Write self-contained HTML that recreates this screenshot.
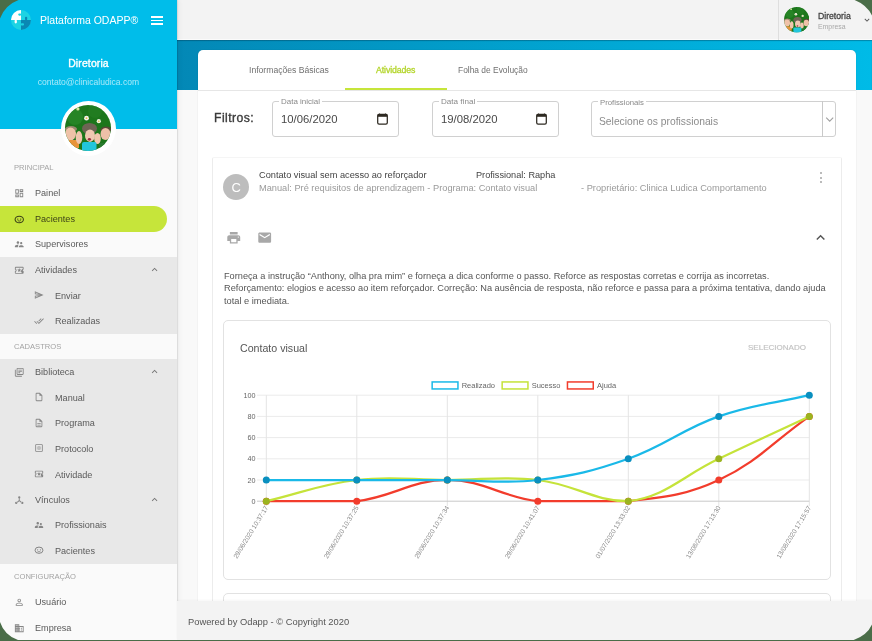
<!DOCTYPE html>
<html><head><meta charset="utf-8">
<style>
*{box-sizing:border-box;margin:0;padding:0}
html,body{width:872px;height:641px;overflow:hidden;background:#4a6d48;font-family:"Liberation Sans",sans-serif}
#app{position:absolute;left:0;top:0;width:872px;height:640px;overflow:hidden;background:#f9f9f9}
.abs{position:absolute}
svg.abs{display:block}
#side{position:absolute;left:0;top:0;width:177px;height:640px;background:#fafafa;box-shadow:1px 0 1px rgba(0,0,0,.08),2px 0 5px rgba(0,0,0,.05)}
#sidehead{position:absolute;left:0;top:0;width:177px;height:129px;background:#00bdea}
.t{position:absolute;white-space:nowrap;line-height:1;will-change:transform}
.grp{position:absolute;left:0;width:177px;background:#e8e8e8}
#topbar{position:absolute;left:177px;top:0;width:695px;height:40px;background:#f3f3f3;border-bottom:1px solid #fbfbfb}
#band{position:absolute;left:177px;top:40px;width:695px;height:50.2px;background:linear-gradient(90deg,#0388b6,#00bbe7);box-shadow:inset 0 1px 1px rgba(0,40,60,.35)}
#card{position:absolute;left:198px;top:50px;width:658px;height:600px;background:#fff;border-radius:5px;box-shadow:0 0 1px rgba(0,0,0,.25)}
#footer{position:absolute;left:177px;top:601px;width:695px;height:39px;background:#f3f3f3;box-shadow:0 -1px 2px rgba(0,0,0,.04)}
</style></head>
<body><div id="app">

<div id="topbar">
  <div class="abs" style="left:601.3px;top:0;width:1px;height:40px;background:#dedede"></div>
  <svg class="abs" style="left:606.8px;top:7.3px" width="25.4" height="25.4" viewBox="0 0 46 46">
    <use href="#avimg"/>
  </svg>
  <div class="t" style="left:640.7px;top:12.2px;font-size:8.66px;color:#444;-webkit-text-stroke:0.3px #444">Diretoria</div>
  <div class="t" style="left:640.7px;top:24.3px;font-size:6.92px;color:#a8a8a8">Empresa</div>
  <svg class="abs" style="left:685px;top:14.5px" width="10" height="10" viewBox="0 0 24 24"><path fill="#555" d="M16.59 8.59L12 13.17 7.41 8.59 6 10l6 6 6-6z"/></svg>
</div>
<div id="band"></div>
<div id="card">
</div>
<div class="abs" style="left:198px;top:89.5px;width:658px;height:1px;background:#e6e6e6"></div>
<div class="abs" style="left:345px;top:87.5px;width:102px;height:2px;background:#c6e53a"></div>
<div class="t" style="left:249.2px;top:66.00px;font-size:8.62px;color:#707070;">Informações Básicas</div>
<div class="t" style="left:375.7px;top:65.90px;font-size:8.75px;color:#b4d52c;-webkit-text-stroke:0.3px #b4d52c;letter-spacing:-0.1px">Atividades</div>
<div class="t" style="left:457.5px;top:66.17px;font-size:8.41px;color:#707070;">Folha de Evolução</div>
<div class="t" style="left:213.7px;top:111.64px;font-size:12.2px;color:#3a3a3a;-webkit-text-stroke:0.35px #3a3a3a;letter-spacing:0.45px">Filtros:</div>
<div class="abs" style="left:271.5px;top:100.9px;width:127.5px;height:36.1px;border:1px solid #d0d0d0;border-radius:3px"></div>
<div class="t" style="left:278.7px;top:98.42px;font-size:7.97px;color:#8a8a8a;background:#fff;padding:0 2px">Data inicial</div>
<div class="t" style="left:281.4px;top:114.36px;font-size:11.3px;color:#484848;">10/06/2020</div>
<div class="abs" style="left:431.5px;top:100.9px;width:127px;height:36.1px;border:1px solid #d0d0d0;border-radius:3px"></div>
<div class="t" style="left:438.6px;top:98.32px;font-size:8.1px;color:#8a8a8a;background:#fff;padding:0 2px">Data final</div>
<div class="t" style="left:441px;top:114.36px;font-size:11.3px;color:#484848;">19/08/2020</div>
<svg class="abs" style="left:376.6px;top:112.6px" width="11" height="12" viewBox="0 0 11 12"><rect x="0.7" y="1.4" width="9.6" height="9.8" rx="1.4" fill="none" stroke="#2e2a22" stroke-width="1.25"/><rect x="0.7" y="1.4" width="9.6" height="2.4" fill="#2e2a22"/><rect x="1.6" y="0.6" width="1.6" height="1.6" rx=".6" fill="#2e2a22"/><rect x="7.8" y="0.6" width="1.6" height="1.6" rx=".6" fill="#2e2a22"/></svg>
<svg class="abs" style="left:535.8px;top:112.6px" width="11" height="12" viewBox="0 0 11 12"><rect x="0.7" y="1.4" width="9.6" height="9.8" rx="1.4" fill="none" stroke="#2e2a22" stroke-width="1.25"/><rect x="0.7" y="1.4" width="9.6" height="2.4" fill="#2e2a22"/><rect x="1.6" y="0.6" width="1.6" height="1.6" rx=".6" fill="#2e2a22"/><rect x="7.8" y="0.6" width="1.6" height="1.6" rx=".6" fill="#2e2a22"/></svg>
<div class="abs" style="left:591.4px;top:100.9px;width:244.3px;height:36.1px;border:1px solid #d0d0d0;border-radius:3px"></div>
<div class="t" style="left:598px;top:98.59px;font-size:7.76px;color:#8a8a8a;background:#fff;padding:0 2px">Profissionais</div>
<div class="abs" style="left:822px;top:101px;width:1px;height:35.5px;background:#c9c9c9"></div>
<svg class="abs" style="left:824px;top:113px" width="12" height="12" viewBox="0 0 12 12"><polyline points="2.2,4.6 5.7,8.1 9.2,4.6" fill="none" stroke="#a0a0a0" stroke-width="1.1"/></svg>
<div class="t" style="left:598.8px;top:116.75px;font-size:10.31px;color:#8c8c8c;">Selecione os profissionais</div>
<div class="abs" style="left:212.3px;top:156.6px;width:629.4px;height:500px;border-radius:2px;border:1px solid #ececec;border-top-color:#f5f5f5"></div>
<div class="abs" style="left:223.2px;top:173.9px;width:26.2px;height:26.2px;border-radius:50%;background:#bdbdbd"></div>
<div class="t" style="left:223.2px;width:26.2px;text-align:center;top:181.3px;font-size:13px;color:#fff">C</div>
<div class="t" style="left:259.3px;top:170.82px;font-size:9.22px;color:#444;">Contato visual sem acesso ao reforçador</div>
<div class="t" style="left:475.6px;top:170.86px;font-size:9.17px;color:#444;">Profissional: Rapha</div>
<div class="t" style="left:259.3px;top:183.71px;font-size:9.24px;color:#9a9a9a;">Manual: Pré requisitos de aprendizagem - Programa: Contato visual</div>
<div class="t" style="left:581px;top:183.67px;font-size:9.29px;color:#9a9a9a;">- Proprietário: Clinica Ludica Comportamento</div>
<div class="abs" style="left:819.5px;top:172.1px;width:2.2px;height:2.2px;border-radius:50%;background:#a5a5a5"></div>
<div class="abs" style="left:819.5px;top:176.70000000000002px;width:2.2px;height:2.2px;border-radius:50%;background:#a5a5a5"></div>
<div class="abs" style="left:819.5px;top:181.3px;width:2.2px;height:2.2px;border-radius:50%;background:#a5a5a5"></div>
<svg class="abs" style="left:226.1px;top:230.1px" width="15.5" height="15.5" viewBox="0 0 24 24"><path fill="#a8a8a8" d="M19 8H5c-1.66 0-3 1.34-3 3v6h4v4h12v-4h4v-6c0-1.66-1.34-3-3-3zm-3 11H8v-5h8v5zm3-7c-.55 0-1-.45-1-1s.45-1 1-1 1 .45 1 1-.45 1-1 1zm-1-9H6v4h12V3z"/></svg>
<svg class="abs" style="left:257px;top:229.9px" width="15.4" height="15.4" viewBox="0 0 24 24"><path fill="#a8a8a8" d="M20 4H4c-1.1 0-1.99.9-1.99 2L2 18c0 1.1.9 2 2 2h16c1.1 0 2-.9 2-2V6c0-1.1-.9-2-2-2zm0 4l-8 5-8-5V6l8 5 8-5v2z"/></svg>
<svg class="abs" style="left:812px;top:228.6px" width="17.2" height="17.2" viewBox="0 0 24 24"><path fill="#555" d="M12 8l-6 6 1.41 1.41L12 10.83l4.59 4.58L18 14z"/></svg>
<div class="t" style="left:224.2px;top:271.94px;font-size:9.2px;color:#555;">Forneça a instrução “Anthony, olha pra mim” e forneça a dica conforme o passo. Reforce as respostas corretas e corrija as incorretas.</div>
<div class="t" style="left:224.2px;top:284.33px;font-size:9.21px;color:#555;">Reforçamento: elogios e acesso ao item reforçador. Correção: Na ausência de resposta, não reforce e passa para a próxima tentativa, dando ajuda</div>
<div class="t" style="left:224.2px;top:296.68px;font-size:9.28px;color:#555;">total e imediata.</div>
<div class="abs" style="left:223.2px;top:320.3px;width:607.5px;height:260px;border:1px solid #e2e2e2;border-radius:5px"></div>
<div class="abs" style="left:223.2px;top:593.2px;width:607.5px;height:60px;border:1px solid #e2e2e2;border-radius:5px"></div>
<div class="t" style="left:239.8px;top:343.20px;font-size:10.63px;color:#555;">Contato visual</div>
<div class="t" style="left:748.2px;top:344.37px;font-size:8.04px;color:#c2c2c2;-webkit-text-stroke:0.15px #c2c2c2">SELECIONADO</div>
<svg class="abs" style="left:0;top:0" width="872" height="641" viewBox="0 0 872 641">
<line x1="257" y1="480.0" x2="809.3" y2="480.0" stroke="#ebebeb" stroke-width="1"/>
<line x1="257" y1="458.8" x2="809.3" y2="458.8" stroke="#ebebeb" stroke-width="1"/>
<line x1="257" y1="437.6" x2="809.3" y2="437.6" stroke="#ebebeb" stroke-width="1"/>
<line x1="257" y1="416.4" x2="809.3" y2="416.4" stroke="#ebebeb" stroke-width="1"/>
<line x1="257" y1="395.2" x2="809.3" y2="395.2" stroke="#ebebeb" stroke-width="1"/>
<line x1="266.3" y1="395.2" x2="266.3" y2="506" stroke="#e4e4e4" stroke-width="1"/>
<line x1="356.8" y1="395.2" x2="356.8" y2="506" stroke="#e4e4e4" stroke-width="1"/>
<line x1="447.3" y1="395.2" x2="447.3" y2="506" stroke="#e4e4e4" stroke-width="1"/>
<line x1="537.8" y1="395.2" x2="537.8" y2="506" stroke="#e4e4e4" stroke-width="1"/>
<line x1="628.3" y1="395.2" x2="628.3" y2="506" stroke="#e4e4e4" stroke-width="1"/>
<line x1="718.8" y1="395.2" x2="718.8" y2="506" stroke="#e4e4e4" stroke-width="1"/>
<line x1="809.3" y1="395.2" x2="809.3" y2="506" stroke="#e4e4e4" stroke-width="1"/>
<line x1="257" y1="501.2" x2="809.3" y2="501.2" stroke="#c8c8c8" stroke-width="1"/>
<text x="255.6" y="503.7" text-anchor="end" font-size="7.2" fill="#666" font-family="Liberation Sans">0</text>
<text x="255.6" y="482.5" text-anchor="end" font-size="7.2" fill="#666" font-family="Liberation Sans">20</text>
<text x="255.6" y="461.3" text-anchor="end" font-size="7.2" fill="#666" font-family="Liberation Sans">40</text>
<text x="255.6" y="440.1" text-anchor="end" font-size="7.2" fill="#666" font-family="Liberation Sans">60</text>
<text x="255.6" y="418.9" text-anchor="end" font-size="7.2" fill="#666" font-family="Liberation Sans">80</text>
<text x="255.6" y="397.7" text-anchor="end" font-size="7.2" fill="#666" font-family="Liberation Sans">100</text>
<text transform="translate(268.5,507.5) rotate(-58.5)" text-anchor="end" font-size="6.6" fill="#888" font-family="Liberation Sans">29/06/2020 10:37:17</text>
<text transform="translate(359.0,507.5) rotate(-58.5)" text-anchor="end" font-size="6.6" fill="#888" font-family="Liberation Sans">29/06/2020 10:37:25</text>
<text transform="translate(449.5,507.5) rotate(-58.5)" text-anchor="end" font-size="6.6" fill="#888" font-family="Liberation Sans">29/06/2020 10:37:34</text>
<text transform="translate(540.0,507.5) rotate(-58.5)" text-anchor="end" font-size="6.6" fill="#888" font-family="Liberation Sans">29/06/2020 10:41:07</text>
<text transform="translate(630.5,507.5) rotate(-58.5)" text-anchor="end" font-size="6.6" fill="#888" font-family="Liberation Sans">01/07/2020 13:33:02</text>
<text transform="translate(721.0,507.5) rotate(-58.5)" text-anchor="end" font-size="6.6" fill="#888" font-family="Liberation Sans">13/08/2020 17:13:30</text>
<text transform="translate(811.5,507.5) rotate(-58.5)" text-anchor="end" font-size="6.6" fill="#888" font-family="Liberation Sans">13/08/2020 17:15:57</text>
<rect x="432.15" y="381.95" width="25.8" height="7" fill="#fff" stroke="#1ab9e8" stroke-width="1.5"/>
<text x="461.7" y="387.8" font-size="7.5" fill="#666" font-family="Liberation Sans">Realizado</text>
<rect x="502.15" y="381.95" width="25.8" height="7" fill="#fff" stroke="#c5e33a" stroke-width="1.5"/>
<text x="531.7" y="387.8" font-size="7.5" fill="#666" font-family="Liberation Sans">Sucesso</text>
<rect x="567.45" y="381.95" width="25.8" height="7" fill="#fff" stroke="#f23c2c" stroke-width="1.5"/>
<text x="597" y="387.8" font-size="7.5" fill="#666" font-family="Liberation Sans">Ajuda</text>
<path d="M266.30 501.20 C302.50 501.20 321.08 501.20 356.80 501.20 C393.48 496.90 411.10 480.00 447.30 480.00 C483.50 480.00 501.12 496.90 537.80 501.20 C573.52 501.20 592.58 501.20 628.30 501.20 C664.98 496.90 685.74 495.49 718.80 480.00 C758.14 461.57 773.10 441.84 809.30 416.40" fill="none" stroke="#f23c2c" stroke-width="2.25"/>
<circle cx="266.3" cy="501.20" r="3.5" fill="#f23c2c"/>
<circle cx="356.8" cy="501.20" r="3.5" fill="#f23c2c"/>
<circle cx="447.3" cy="480.00" r="3.5" fill="#f23c2c"/>
<circle cx="537.8" cy="501.20" r="3.5" fill="#f23c2c"/>
<circle cx="628.3" cy="501.20" r="3.5" fill="#f23c2c"/>
<circle cx="718.8" cy="480.00" r="3.5" fill="#f23c2c"/>
<circle cx="809.3" cy="416.40" r="3.5" fill="#f23c2c"/>
<path d="M266.30 501.20 C302.50 492.72 320.12 484.30 356.80 480.00 C392.52 475.82 411.10 480.00 447.30 480.00 C483.50 480.00 502.08 475.82 537.80 480.00 C574.48 484.30 593.41 501.20 628.30 501.20 C665.81 496.81 682.60 475.76 718.80 458.80 C755.00 441.84 773.10 433.36 809.30 416.40" fill="none" stroke="#c5e33a" stroke-width="2.25"/>
<circle cx="266.3" cy="501.20" r="3.5" fill="#9bb41f"/>
<circle cx="356.8" cy="480.00" r="3.5" fill="#9bb41f"/>
<circle cx="447.3" cy="480.00" r="3.5" fill="#9bb41f"/>
<circle cx="537.8" cy="480.00" r="3.5" fill="#9bb41f"/>
<circle cx="628.3" cy="501.20" r="3.5" fill="#9bb41f"/>
<circle cx="718.8" cy="458.80" r="3.5" fill="#9bb41f"/>
<circle cx="809.3" cy="416.40" r="3.5" fill="#9bb41f"/>
<path d="M266.30 480.00 C302.50 480.00 320.60 480.00 356.80 480.00 C393.00 480.00 411.10 480.00 447.30 480.00 C483.50 480.00 502.08 484.18 537.80 480.00 C574.48 475.70 593.41 471.06 628.30 458.80 C665.81 445.62 681.29 429.58 718.80 416.40 C753.69 404.14 773.10 403.68 809.30 395.20" fill="none" stroke="#1ab9e8" stroke-width="2.25"/>
<circle cx="266.3" cy="480.00" r="3.5" fill="#0a8fbf"/>
<circle cx="356.8" cy="480.00" r="3.5" fill="#0a8fbf"/>
<circle cx="447.3" cy="480.00" r="3.5" fill="#0a8fbf"/>
<circle cx="537.8" cy="480.00" r="3.5" fill="#0a8fbf"/>
<circle cx="628.3" cy="458.80" r="3.5" fill="#0a8fbf"/>
<circle cx="718.8" cy="416.40" r="3.5" fill="#0a8fbf"/>
<circle cx="809.3" cy="395.20" r="3.5" fill="#0a8fbf"/>
</svg>


<div id="side">
  <div id="sidehead">
    <svg class="abs" style="left:11.2px;top:10.2px" width="20" height="20" viewBox="0 0 20 20">
      <defs><clipPath id="lc"><circle cx="10" cy="10" r="10"/></clipPath></defs>
      <g clip-path="url(#lc)">
        <rect x="0" y="0" width="20" height="20" fill="#1dd3e3"/>
        <rect x="0" y="0" width="10" height="10" fill="#fff"/>
        <rect x="10" y="10" width="10" height="10" fill="#0a88b4"/>
        <rect x="7.2" y="3.4" width="3" height="2.3" rx="1.1" fill="#1dd3e3"/>
        <rect x="3.6" y="9.8" width="2.3" height="3.6" rx="1.1" fill="#fff"/>
        <rect x="14" y="6.8" width="2.2" height="3.4" rx="1" fill="#0a88b4"/>
        <rect x="9.8" y="13.2" width="3.2" height="2.2" rx="1" fill="#1dd3e3"/>
      </g>
    </svg>
    <div class="t" style="left:39.6px;top:15px;font-size:10.5px;color:#fff">Plataforma ODAPP®</div>
    <div class="abs" style="left:151.2px;top:16.4px;width:11.8px;height:1.35px;background:#fff"></div>
    <div class="abs" style="left:151.2px;top:19.7px;width:11.8px;height:1.35px;background:#fff"></div>
    <div class="abs" style="left:151.2px;top:23.2px;width:11.8px;height:1.35px;background:#fff"></div>
    <div class="t" style="left:0;width:177px;text-align:center;top:59.1px;font-size:10.4px;color:#fff;-webkit-text-stroke:0.35px #fff;letter-spacing:0.15px">Diretoria</div>
    <div class="t" style="left:0;width:177px;text-align:center;top:77.8px;font-size:8.56px;color:#a9e9f9">contato@clinicaludica.com</div>
  </div>
  <div class="abs" style="left:60.5px;top:100.5px;width:55px;height:55px;border-radius:50%;background:#fff"></div>
<svg class="abs" style="left:64.9px;top:104.9px" width="46" height="46" viewBox="0 0 46 46">
  <defs><clipPath id="av"><circle cx="23" cy="23" r="23"/></clipPath></defs>
  <g id="avimg" clip-path="url(#av)">
    <rect width="46" height="46" fill="#1c761b"/>
    <circle cx="10" cy="12" r="8" fill="#2b8a2a" opacity=".7"/>
    <circle cx="30" cy="6" r="7" fill="#237f22" opacity=".7"/>
    <circle cx="12.9" cy="3.9" r="1.6" fill="#d8e8a0"/>
    <circle cx="21.5" cy="13.2" r="2.4" fill="#f2f2ec"/><circle cx="21.5" cy="13.2" r=".9" fill="#e0c040"/>
    <circle cx="33.8" cy="16.2" r="2.1" fill="#eef0e0"/><circle cx="33.8" cy="16.2" r=".8" fill="#e0c040"/>
    <ellipse cx="6" cy="24" rx="6" ry="3" fill="#9a8870"/>
    <ellipse cx="5.5" cy="29" rx="5.5" ry="6.5" fill="#efc2a8"/>
    <rect x="4" y="35" width="10" height="8" fill="#e8943a"/>
    <ellipse cx="14" cy="32.5" rx="3.3" ry="6.5" fill="#f0c6ae"/>
    <ellipse cx="24.5" cy="23.5" rx="7.5" ry="5.5" fill="#6e6454"/>
    <ellipse cx="25" cy="30.7" rx="5" ry="6.2" fill="#f0c8b2"/>
    <ellipse cx="24.4" cy="34.3" rx="1.6" ry="1.4" fill="#9a3040"/>
    <ellipse cx="32.5" cy="33.5" rx="3.3" ry="5.5" fill="#f0c6ae"/>
    <ellipse cx="41" cy="24.5" rx="5.5" ry="3" fill="#5a4838"/>
    <ellipse cx="40.5" cy="29" rx="5" ry="6" fill="#eec0a8"/>
    <rect x="17" y="37" width="14.5" height="10" rx="2" fill="#22c6dc"/>
    <rect x="34" y="38" width="10" height="8" fill="#2a7a30"/>
  </g>
</svg>

<div class="grp" style="top:256.8px;height:76.8px"></div>
<div class="grp" style="top:359px;height:205px"></div>
<div class="abs" style="left:0;top:205.5px;width:167px;height:26px;background:#c6e53a;border-radius:0 13px 13px 0"></div>
<div class="t" style="left:14px;top:163.52px;font-size:7.6px;color:#a3a3a3;letter-spacing:0px">PRINCIPAL</div>
<svg class="abs" style="left:13.8px;top:188.0px" width="10.5" height="10.5" viewBox="0 0 24 24"><path fill="#858585" d="M19 5v2h-4V5h4M9 5v6H5V5h4m10 8v6h-4v-6h4M9 17v2H5v-2h4M21 3h-8v6h8V3zM11 3H3v10h8V3zm10 8h-8v10h8V11zm-10 4H3v6h8v-6z"/></svg>
<div class="t" style="left:34.7px;top:189.02px;font-size:9.1px;color:#5a5a5a;">Painel</div>
<svg class="abs" style="left:13.8px;top:213.6px" width="10.5" height="10.5" viewBox="0 0 24 24"><ellipse cx="12" cy="12.5" rx="9.5" ry="7.5" fill="none" stroke="#3a3f18" stroke-width="2.4"/><circle cx="8.6" cy="11.5" r="1.5" fill="#3a3f18"/><circle cx="15.4" cy="11.5" r="1.5" fill="#3a3f18"/><path d="M8.5 15 Q12 17.6 15.5 15" fill="none" stroke="#3a3f18" stroke-width="1.8"/></svg>
<div class="t" style="left:34.7px;top:214.62px;font-size:9.1px;color:#3c4218;">Pacientes</div>
<svg class="abs" style="left:13.8px;top:239.4px" width="10.5" height="10.5" viewBox="0 0 24 24"><path fill="#858585" d="M16.5 12c1.38 0 2.49-1.12 2.49-2.5S17.88 7 16.5 7C15.12 7 14 8.12 14 9.5s1.12 2.5 2.5 2.5zM9 11c1.66 0 2.99-1.34 2.99-3S10.66 5 9 5C7.34 5 6 6.34 6 8s1.34 3 3 3zm7.5 3c-1.83 0-5.5.92-5.5 2.75V19h11v-2.25c0-1.830-3.67-2.75-5.5-2.75zM9 13c-2.33 0-7 1.17-7 3.5V19h7v-2.25c0-.85.33-2.34 2.37-3.47C10.5 13.1 9.66 13 9 13z"/></svg>
<div class="t" style="left:34.7px;top:240.42px;font-size:9.1px;color:#5a5a5a;">Supervisores</div>
<svg class="abs" style="left:13.8px;top:265.0px" width="10.5" height="10.5" viewBox="0 0 24 24"><path fill="#858585" d="M20 12c0-1.1.9-2 2-2V6c0-1.1-.9-2-2-2H4c-1.1 0-1.99.9-1.99 2v4c1.1 0 1.99.9 1.99 2s-.89 2-2 2v4c0 1.1.9 2 2 2h16c1.1 0 2-.9 2-2v-4c-1.1 0-2-.9-2-2zm-2-1.46c-1.190.69-2 1.99-2 3.46s.81 2.77 2 3.46V18H4v-2.54c1.19-.69 2-1.99 2-3.46 0-1.48-.8-2.77-1.99-3.46L4 6h16v2.54zM9.07 16L12 14.12 14.930 16l-.89-3.36 2.7-2.21-3.48-.21L12 7l-1.27 3.22-3.48.21 2.7 2.21z"/></svg>
<div class="t" style="left:34.7px;top:266.02px;font-size:9.1px;color:#5a5a5a;">Atividades</div>
<svg class="abs" style="left:148.9px;top:264.0px" width="11.2" height="11.2" viewBox="0 0 24 24"><path fill="#777" d="M12 8l-6 6 1.41 1.41L12 10.83l4.59 4.58L18 14z"/></svg>
<svg class="abs" style="left:34.0px;top:289.9px" width="10" height="10" viewBox="0 0 24 24"><path fill="#858585" d="M4.01 6.03l7.51 3.22-7.52-1 .01-2.22m7.5 8.72L4 17.97v-2.22l7.51-1M2.01 3L2 10l15 2-15 2 .01 7L23 12 2.01 3z"/></svg>
<div class="t" style="left:54.7px;top:291.62px;font-size:9.1px;color:#5a5a5a;">Enviar</div>
<svg class="abs" style="left:34.0px;top:315.5px" width="10" height="10" viewBox="0 0 24 24"><path fill="#858585" d="M18 7l-1.41-1.41-6.34 6.34 1.41 1.41L18 7zm4.24-1.41L11.66 16.17 7.48 12l-1.41 1.41L11.66 19l12-12-1.42-1.41zM.41 13.41L6 19l1.41-1.41L1.83 12 .41 13.41z"/></svg>
<div class="t" style="left:54.7px;top:317.22px;font-size:9.1px;color:#5a5a5a;">Realizadas</div>
<div class="t" style="left:14px;top:342.92px;font-size:7.6px;color:#a3a3a3;letter-spacing:0px">CADASTROS</div>
<svg class="abs" style="left:13.8px;top:367.1px" width="10.5" height="10.5" viewBox="0 0 24 24"><path fill="#858585" d="M4 6H2v14c0 1.1.9 2 2 2h14v-2H4V6zm16-4H8c-1.1 0-2 .9-2 2v12c0 1.1.9 2 2 2h12c1.1 0 2-.9 2-2V4c0-1.1-.9-2-2-2zm0 14H8V4h12v12zM10 9h8v2h-8zm0 3h4v2h-4zm0-6h8v2h-8z"/></svg>
<div class="t" style="left:34.7px;top:368.12px;font-size:9.1px;color:#5a5a5a;">Biblioteca</div>
<svg class="abs" style="left:148.9px;top:366.1px" width="11.2" height="11.2" viewBox="0 0 24 24"><path fill="#777" d="M12 8l-6 6 1.41 1.41L12 10.83l4.59 4.58L18 14z"/></svg>
<svg class="abs" style="left:34.0px;top:392.0px" width="10" height="10" viewBox="0 0 24 24"><path fill="#858585" d="M14 2H6c-1.1 0-1.99.9-1.99 2L4 20c0 1.1.89 2 1.99 2H18c1.1 0 2-.9 2-2V8l-6-6zM6 20V4h7v5h5v11H6z"/></svg>
<div class="t" style="left:54.7px;top:393.72px;font-size:9.1px;color:#5a5a5a;">Manual</div>
<svg class="abs" style="left:34.0px;top:417.6px" width="10" height="10" viewBox="0 0 24 24"><path fill="#858585" d="M8 16h8v2H8zm0-4h8v2H8zm6-10H6c-1.1 0-2 .89-2 2v16c0 1.1.89 2 1.99 2H18c1.1 0 2-.9 2-2V8l-6-6zm4 18H6V4h7v5h5v11z"/></svg>
<div class="t" style="left:54.7px;top:419.32px;font-size:9.1px;color:#5a5a5a;">Programa</div>
<svg class="abs" style="left:34.0px;top:443.1px" width="10" height="10" viewBox="0 0 24 24"><path fill="#858585" d="M19 3H5c-1.1 0-2 .9-2 2v14c0 1.1.9 2 2 2h14c1.1 0 2-.9 2-2V5c0-1.1-.9-2-2-2zm0 16H5V5h14v14zM11 7h2v10h-2zM7 9h2v2H7zm8 0h2v2h-2zm-8 4h2v2H7zm8 0h2v2h-2z"/></svg>
<div class="t" style="left:54.7px;top:444.82px;font-size:9.1px;color:#5a5a5a;">Protocolo</div>
<svg class="abs" style="left:34.0px;top:468.8px" width="10" height="10" viewBox="0 0 24 24"><path fill="#858585" d="M20 12c0-1.1.9-2 2-2V6c0-1.1-.9-2-2-2H4c-1.1 0-1.99.9-1.99 2v4c1.1 0 1.99.9 1.99 2s-.89 2-2 2v4c0 1.1.9 2 2 2h16c1.1 0 2-.9 2-2v-4c-1.1 0-2-.9-2-2zm-2-1.46c-1.190.69-2 1.99-2 3.46s.81 2.77 2 3.46V18H4v-2.54c1.19-.69 2-1.99 2-3.46 0-1.48-.8-2.77-1.99-3.46L4 6h16v2.54zM9.07 16L12 14.12 14.930 16l-.89-3.36 2.7-2.21-3.48-.21L12 7l-1.27 3.22-3.48.21 2.7 2.21z"/></svg>
<div class="t" style="left:54.7px;top:470.52px;font-size:9.1px;color:#5a5a5a;">Atividade</div>
<svg class="abs" style="left:13.8px;top:494.9px" width="10.5" height="10.5" viewBox="0 0 24 24"><path fill="#858585" d="M12 3a2.6 2.6 0 1 0 0 5.2A2.6 2.6 0 0 0 12 3zM11 8h2v4.2l5.2 4.3-1.3 1.5L12 14l-4.9 4-1.3-1.5 5.2-4.3zM5 15.5a2.6 2.6 0 1 0 0 5.2 2.6 2.6 0 0 0 0-5.2zm14 0a2.6 2.6 0 1 0 0 5.2 2.6 2.6 0 0 0 0-5.2z"/></svg>
<div class="t" style="left:34.7px;top:495.92px;font-size:9.1px;color:#5a5a5a;">Vínculos</div>
<svg class="abs" style="left:148.9px;top:493.9px" width="11.2" height="11.2" viewBox="0 0 24 24"><path fill="#777" d="M12 8l-6 6 1.41 1.41L12 10.83l4.59 4.58L18 14z"/></svg>
<svg class="abs" style="left:34.0px;top:519.7px" width="10" height="10" viewBox="0 0 24 24"><path fill="#858585" d="M16.5 12c1.38 0 2.49-1.12 2.49-2.5S17.88 7 16.5 7C15.12 7 14 8.12 14 9.5s1.12 2.5 2.5 2.5zM9 11c1.66 0 2.99-1.34 2.99-3S10.66 5 9 5C7.34 5 6 6.34 6 8s1.34 3 3 3zm7.5 3c-1.83 0-5.5.92-5.5 2.75V19h11v-2.25c0-1.830-3.67-2.75-5.5-2.75zM9 13c-2.33 0-7 1.17-7 3.5V19h7v-2.25c0-.85.33-2.34 2.37-3.47C10.5 13.1 9.66 13 9 13z"/></svg>
<div class="t" style="left:54.7px;top:521.42px;font-size:9.1px;color:#5a5a5a;">Profissionais</div>
<svg class="abs" style="left:34.0px;top:545.4px" width="10" height="10" viewBox="0 0 24 24"><ellipse cx="12" cy="12.5" rx="9.5" ry="7.5" fill="none" stroke="#858585" stroke-width="2.4"/><circle cx="8.6" cy="11.5" r="1.5" fill="#858585"/><circle cx="15.4" cy="11.5" r="1.5" fill="#858585"/><path d="M8.5 15 Q12 17.6 15.5 15" fill="none" stroke="#858585" stroke-width="1.8"/></svg>
<div class="t" style="left:54.7px;top:547.12px;font-size:9.1px;color:#5a5a5a;">Pacientes</div>
<div class="t" style="left:14px;top:572.92px;font-size:7.6px;color:#a3a3a3;letter-spacing:0px">CONFIGURAÇÃO</div>
<svg class="abs" style="left:13.8px;top:596.9px" width="10.5" height="10.5" viewBox="0 0 24 24"><path fill="#858585" d="M12 5.9c1.16 0 2.1.94 2.1 2.1s-.94 2.1-2.1 2.1S9.9 9.16 9.9 8s.94-2.1 2.1-2.1m0 9c2.97 0 6.1 1.46 6.1 2.1v1.1H5.9V17c0-.64 3.13-2.1 6.1-2.1M12 4C9.79 4 8 5.79 8 8s1.79 4 4 4 4-1.79 4-4-1.79-4-4-4zm0 9c-2.67 0-8 1.34-8 4v3h16v-3c0-2.66-5.33-4-8-4z"/></svg>
<div class="t" style="left:34.7px;top:597.92px;font-size:9.1px;color:#5a5a5a;">Usuário</div>
<svg class="abs" style="left:13.8px;top:623.1px" width="10.5" height="10.5" viewBox="0 0 24 24"><path fill="#858585" d="M12 7V3H2v18h20V7H12zM6 19H4v-2h2v2zm0-4H4v-2h2v2zm0-4H4V9h2v2zm0-4H4V5h2v2zm4 12H8v-2h2v2zm0-4H8v-2h2v2zm0-4H8V9h2v2zm0-4H8V5h2v2zm10 12h-8v-2h2v-2h-2v-2h2v-2h-2V9h8v10zm-2-8h-2v2h2v-2zm0 4h-2v2h2v-2z"/></svg>
<div class="t" style="left:34.7px;top:624.12px;font-size:9.1px;color:#5a5a5a;">Empresa</div>

</div>

<div id="footer"><div class="t" style="left:11px;top:16.68px;font-size:9.36px;color:#555">Powered by Odapp - © Copyright 2020</div></div>

<svg class="abs" style="left:0;top:0;z-index:50" width="872" height="641" viewBox="0 0 872 641">
<path fill="#4a6d48" d="M0 0H18.5Q5 5 0 18.5Z"/>
<path fill="#4a6d48" d="M872 0H854.6Q867 5 872 15.5Z"/>
<path fill="#4a6d48" d="M872 641V624.6Q867 635.5 853.7 640V641Z"/>
<path fill="#4a6d48" d="M0 641V622Q4.5 635.5 18 640V641Z"/>
</svg>
</div></body></html>
